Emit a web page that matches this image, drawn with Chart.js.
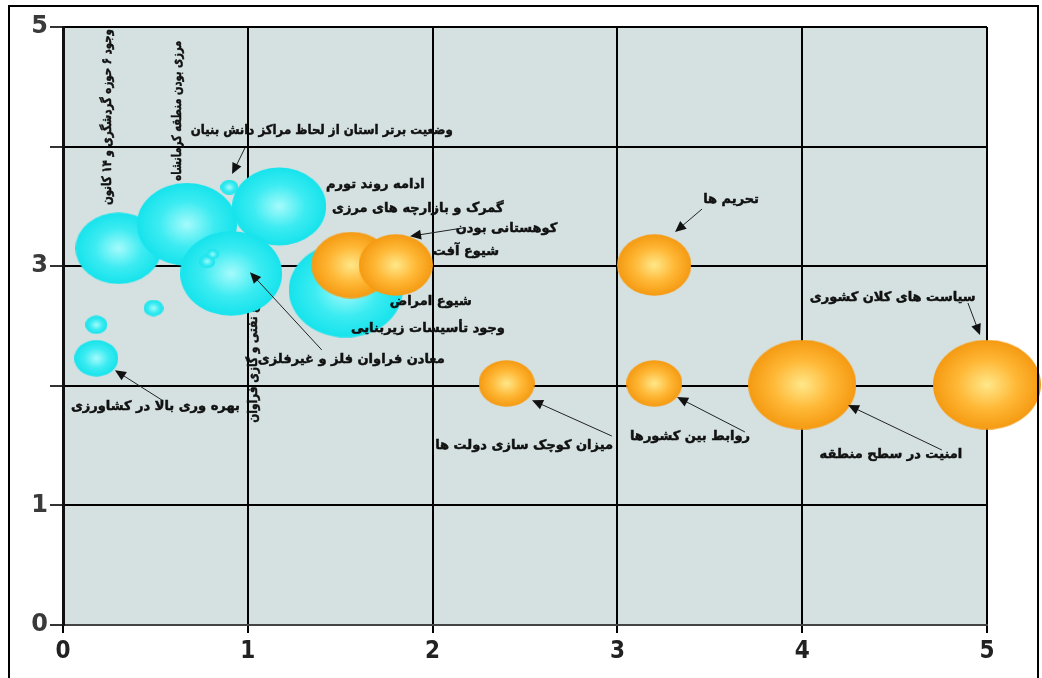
<!DOCTYPE html>
<html>
<head>
  <meta charset="utf-8">
  <title>Bubble chart</title>
  <script src="https://cdn.jsdelivr.net/npm/chart.js@4.4.0/dist/chart.umd.min.js"></script>
  <style>
    body { margin: 0; background: #fff; }
    #wrap { position: relative; width: 1042px; height: 678px; overflow: hidden; }
    #frame { position: absolute; left: 8px; top: 5px; width: 1027px; height: 700px; border: 2px solid #000; pointer-events: none; }
  </style>
</head>
<body>
  <div id="wrap">
    <canvas id="bubbleChart" width="1042" height="678"></canvas>
    <div id="frame"></div>
  </div>
  <script>
    // axis ticks
    const xTicks = [0, 1, 2, 3, 4, 5];
    const yTickLabels = ['0', '1', '', '3', '', '5'];

    // cyan bubbles
    const cyanX = [0.30, 0.67, 1.17, 0.91, 1.53, 0.90, 0.78, 0.81, 0.49, 0.18, 0.18];
    const cyanY = [3.15, 3.35, 3.50, 2.94, 2.80, 3.66, 3.04, 3.10, 2.65, 2.51, 2.23];
    const cyanR = [43, 50, 47, 51, 57, 9, 8, 6, 10, 11, 22];

    // orange bubbles
    const orangeX = [1.56, 1.80, 3.20, 2.40, 3.20, 4.00, 5.00];
    const orangeY = [3.01, 3.01, 3.01, 2.02, 2.02, 2.01, 2.01];
    const orangeR = [40, 37, 37, 28, 28, 54, 54];

    // labels with arrows (data coordinates)
    const notes = [
      { text: 'وضعیت برتر استان از لحاظ مراکز دانش بنیان', x: 1.40, y: 4.13, w: 262, arrow: [0.985, 3.99, 0.915, 3.77] },
      { text: 'ادامه روند تورم', x: 1.69, y: 3.68 },
      { text: 'گمرک و بازارچه های مرزی', x: 1.92, y: 3.48 },
      { text: 'کوهستانی بودن', x: 2.40, y: 3.31, arrow: [2.165, 3.32, 1.878, 3.25] },
      { text: 'شیوع آفت', x: 2.18, y: 3.12 },
      { text: 'شیوع امراض', x: 1.99, y: 2.70 },
      { text: 'وجود تأسیسات زیربنایی', x: 1.975, y: 2.475 },
      { text: 'معادن فراوان فلز و غیرفلزی', x: 1.56, y: 2.216, arrow: [1.40, 2.30, 1.012, 2.95] },
      { text: 'بهره وری بالا در کشاورزی', x: 0.50, y: 1.83, arrow: [0.536, 1.88, 0.281, 2.13] },
      { text: 'میزان کوچک سازی دولت ها', x: 2.495, y: 1.50, arrow: [2.97, 1.58, 2.538, 1.88] },
      { text: 'تحریم ها', x: 3.615, y: 3.554, arrow: [3.458, 3.478, 3.312, 3.286] },
      { text: 'روابط بین کشورها', x: 3.393, y: 1.572, arrow: [3.69, 1.614, 3.323, 1.906] },
      { text: 'سیاست های کلان کشوری', x: 4.49, y: 2.734, arrow: [4.897, 2.692, 4.962, 2.425] },
      { text: 'امنیت در سطح منطقه', x: 4.48, y: 1.421, arrow: [4.756, 1.463, 4.248, 1.839] },
      { text: 'وجود ۶ حوزه گردشگری و ۱۴ کانون', x: 0.244, y: 4.247, w: 176, vertical: true },
      { text: 'مرزی بودن منطقه کرمانشاه', x: 0.622, y: 4.30, w: 140, vertical: true },
      { text: 'منابع نفتی و گازی فراوان', x: 1.034, y: 2.26, w: 136, vertical: true, under: true }
    ];

    const cyanColors = ['#a6fbfc', '#3decf2', '#16e3ec'];
    const orangeColors = ['#ffe88a', '#ffb836', '#f59a12'];

    // gradient ellipse images used as point styles
    const styleCache = {};
    function bubbleImage(r, colors) {
      const key = r + colors.join();
      if (styleCache[key]) return styleCache[key];
      const rx = r, ry = r * 0.83;
      const c = document.createElement('canvas');
      c.width = Math.ceil(rx * 2);
      c.height = Math.ceil(ry * 2);
      const g = c.getContext('2d');
      g.translate(c.width / 2, c.height / 2);
      g.scale(1, ry / rx);
      const grad = g.createRadialGradient(0, 0, 0, 0, 0, rx);
      grad.addColorStop(0, colors[0]);
      grad.addColorStop(0.55, colors[1]);
      grad.addColorStop(1, colors[2]);
      g.fillStyle = grad;
      g.beginPath();
      g.arc(0, 0, rx, 0, Math.PI * 2);
      g.fill();
      styleCache[key] = c;
      return c;
    }

    const toPoints = (xs, ys, rs) => xs.map((x, i) => ({ x: x, y: ys[i], r: rs[i] }));

    const plotBg = {
      id: 'plotBg',
      beforeDraw(chart) {
        const a = chart.chartArea, ctx = chart.ctx;
        ctx.save();
        ctx.fillStyle = '#d5e1e1';
        ctx.fillRect(a.left, a.top, a.right - a.left, a.bottom - a.top);
        ctx.restore();
      }
    };

    function drawNotes(chart, under) {
      const ctx = chart.ctx, sx = chart.scales.x, sy = chart.scales.y;
      ctx.save();
      ctx.fillStyle = '#111';
      ctx.strokeStyle = '#111';
      ctx.font = 'bold 13px "DejaVu Sans", sans-serif';
      ctx.textAlign = 'center';
      ctx.textBaseline = 'middle';
      ctx.direction = 'rtl';
      notes.forEach(n => {
        if (!!n.under !== under) return;
        const px = sx.getPixelForValue(n.x), py = sy.getPixelForValue(n.y);
        ctx.save();
        ctx.translate(px, py);
        if (n.vertical) ctx.rotate(-Math.PI / 2);
        ctx.lineWidth = 0.5;
        if (n.w) {
          ctx.fillText(n.text, 0, 0, n.w);
          ctx.strokeText(n.text, 0, 0, n.w);
        } else {
          ctx.fillText(n.text, 0, 0);
          ctx.strokeText(n.text, 0, 0);
        }
        ctx.restore();
        if (n.arrow) {
          const x1 = sx.getPixelForValue(n.arrow[0]), y1 = sy.getPixelForValue(n.arrow[1]);
          const x2 = sx.getPixelForValue(n.arrow[2]), y2 = sy.getPixelForValue(n.arrow[3]);
          const ang = Math.atan2(y2 - y1, x2 - x1);
          ctx.strokeStyle = '#222';
          ctx.lineWidth = 1;
          ctx.beginPath();
          ctx.moveTo(x1, y1);
          ctx.lineTo(x2 - 8 * Math.cos(ang), y2 - 8 * Math.sin(ang));
          ctx.stroke();
          ctx.beginPath();
          ctx.moveTo(x2, y2);
          ctx.lineTo(x2 - 11 * Math.cos(ang) + 5 * Math.sin(ang), y2 - 11 * Math.sin(ang) - 5 * Math.cos(ang));
          ctx.lineTo(x2 - 11 * Math.cos(ang) - 5 * Math.sin(ang), y2 - 11 * Math.sin(ang) + 5 * Math.cos(ang));
          ctx.closePath();
          ctx.fill();
          ctx.strokeStyle = '#111';
        }
      });
      ctx.restore();
    }

    const notesPlugin = {
      id: 'notes',
      beforeDatasetsDraw(chart) { drawNotes(chart, true); },
      afterDatasetsDraw(chart) { drawNotes(chart, false); }
    };

    const noPad = s => { s.paddingTop = 0; s.paddingBottom = 0; s.paddingLeft = 0; s.paddingRight = 0; };

    const ctx = document.getElementById('bubbleChart').getContext('2d');
    new Chart(ctx, {
      type: 'bubble',
      data: {
        datasets: [
          {
            label: 'orange',
            data: toPoints(orangeX, orangeY, orangeR),
            pointStyle: c => c.raw ? bubbleImage(c.raw.r, orangeColors) : 'circle',
            backgroundColor: '#ffb836',
            clip: false
          },
          {
            label: 'cyan',
            data: toPoints(cyanX, cyanY, cyanR),
            pointStyle: c => c.raw ? bubbleImage(c.raw.r, cyanColors) : 'circle',
            backgroundColor: '#3decf2',
            clip: false
          }
        ]
      },
      options: {
        responsive: false,
        animation: false,
        events: [],
        layout: { autoPadding: false, padding: { top: 27, right: 55, left: 0, bottom: 0 } },
        plugins: { legend: { display: false }, tooltip: { enabled: false } },
        scales: {
          x: {
            type: 'linear',
            min: 0,
            max: 5,
            afterBuildTicks: s => { s.ticks = xTicks.map(v => ({ value: v })); },
            afterFit: s => { s.height = 53; noPad(s); },
            grid: { color: '#000', lineWidth: 2, tickLength: 8, tickColor: '#000' },
            border: { color: '#444', width: 2 },
            ticks: {
              color: '#222',
              padding: 4,
              font: { family: "'Liberation Sans Narrow', 'DejaVu Sans Condensed', sans-serif", size: 24, weight: 'bold' }
            }
          },
          y: {
            type: 'linear',
            min: 0,
            max: 5,
            afterBuildTicks: s => { s.ticks = yTickLabels.map((t, i) => ({ value: i })); },
            afterFit: s => { s.width = 63; noPad(s); },
            grid: { color: '#000', lineWidth: 2, tickLength: 13, tickColor: '#333' },
            border: { color: '#111', width: 3 },
            ticks: {
              color: '#3a3a3a',
              padding: 2,
              callback: (v, i) => yTickLabels[i],
              font: { family: "'DejaVu Sans', sans-serif", size: 24, weight: 'bold' }
            }
          }
        }
      },
      plugins: [plotBg, notesPlugin]
    });
  </script>
</body>
</html>
